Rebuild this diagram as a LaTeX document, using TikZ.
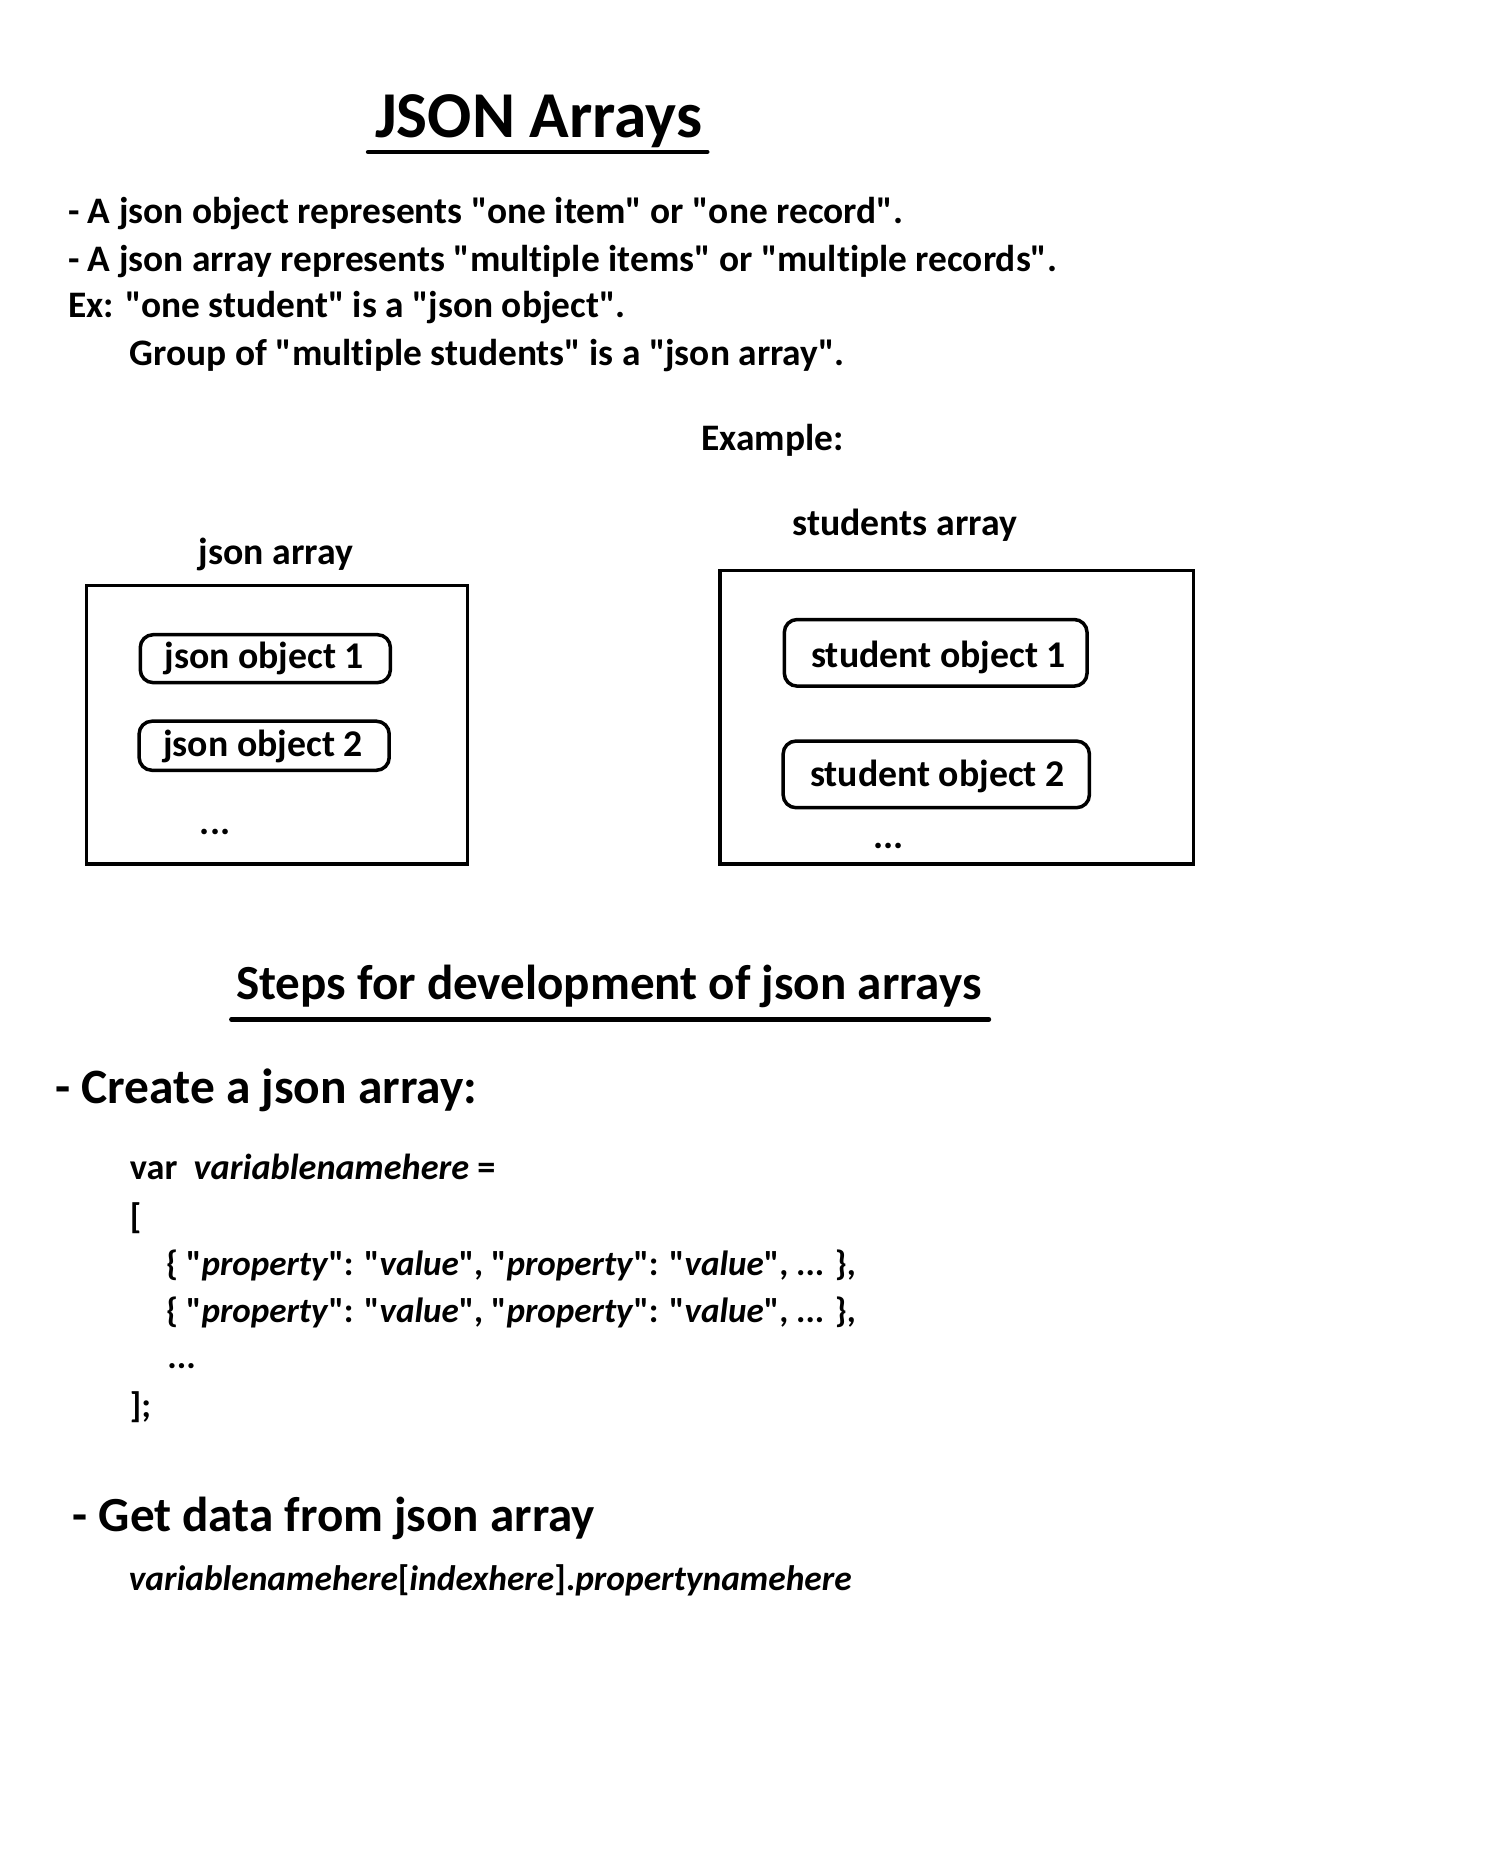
\documentclass[tikz,border=0pt]{standalone}
\usepackage{fontspec}
\setmainfont{Carlito}[Ligatures={TeXOff,NoCommon}]
\begin{document}
\begin{tikzpicture}[x=1pt,y=-1pt,
  txt/.style={anchor=base west,inner sep=0pt,font=\bfseries\fs{32}},
  ctxt/.style={anchor=base,inner sep=0pt,font=\bfseries\fs{32.3}},
  code/.style={anchor=base west,inner sep=0pt,font=\bfseries\fs{30.3}},
  head/.style={inner sep=0pt,font=\bfseries\fs{42}},
  frame/.style={draw,line width=3pt},
  pill/.style={draw,line width=3pt,rounded corners=11pt,inner sep=0pt},
  uline/.style={line width=4pt,line cap=round}]
\providecommand{\fs}[1]{\fontsize{#1}{#1}\selectfont}
\useasboundingbox[fill=white] (0,0) rectangle (1280,1587);
% title
\node[ctxt,font=\bfseries\fs{56}] (title) at (461,118) {JSON Arrays};
\coordinate (t1) at (315,130); \coordinate (t2) at (605,130);
\draw[uline] (t1) -- (t2);
% intro
\node[txt] (l1) at (58,191) {- A json object represents "one item" or "one record".};
\node[txt] (l2) at (58,232) {- A json array represents "multiple items" or "multiple records".};
\node[txt] (l3) at (58,272) {Ex: "one student" is a "json object".};
\node[txt] (l4) at (111,313) {Group of "multiple students" is a "json array".};
\node[txt] (ex) at (600,385) {Example:};
% left box
\node[ctxt] (ja) at (236,483) {json array};
\node[frame,minimum width=326pt,minimum height=238pt] (lbox) at (237,620) {};
\node[pill,minimum width=214pt,minimum height=41pt] (jo1) at (227,563.5) {};
\node[ctxt] (jo1t) at (226,572) {json object 1};
\node[pill,minimum width=214pt,minimum height=42pt] (jo2) at (226,638) {};
\node[ctxt] (jo2t) at (225,647) {json object 2};
\node[ctxt] (d1) at (184,714) {...};
% right box
\node[ctxt] (sa) at (774,458) {students array};
\node[frame,minimum width=405pt,minimum height=251pt] (rbox) at (818.5,613.5) {};
\node[pill,minimum width=259pt,minimum height=57pt] (so1) at (800.5,558.5) {};
\node[ctxt] (so1t) at (803,571) {student object 1};
\node[pill,minimum width=262pt,minimum height=57pt] (so2) at (801,662.5) {};
\node[ctxt] (so2t) at (802,673) {student object 2};
\node[ctxt] (d2) at (760,726) {...};
% steps
\node[head,anchor=base] (steps) at (521,855) {Steps for development of json arrays};
\coordinate (s1) at (198,872); \coordinate (s2) at (846,872);
\draw[uline] (s1) -- (s2);
\node[head,anchor=base west,font=\bfseries\fs{42.3}] (create) at (47,944) {- Create a json array:};
\node[code,font=\bfseries\fs{31}] (var) at (111,1009) {var\ \ \textit{variablenamehere} =};
\node[code] (ob) at (111,1051) {[};
\node[code,font=\bfseries\fs{30}] (c1) at (142,1091) {\{ "\textit{property}": "\textit{value}", "\textit{property}": "\textit{value}", ... \},};
\node[code,font=\bfseries\fs{30}] (c2) at (142,1131) {\{ "\textit{property}": "\textit{value}", "\textit{property}": "\textit{value}", ... \},};
\node[code] (cd) at (143,1171) {...};
\node[code] (cb) at (111,1213) {];};
\node[head,anchor=base west] (get) at (62,1310) {- Get data from json array};
\node[code] (acc) at (110,1361) {\textit{variablenamehere}[\textit{indexhere}].\textit{propertynamehere}};
\end{tikzpicture}
\end{document}
